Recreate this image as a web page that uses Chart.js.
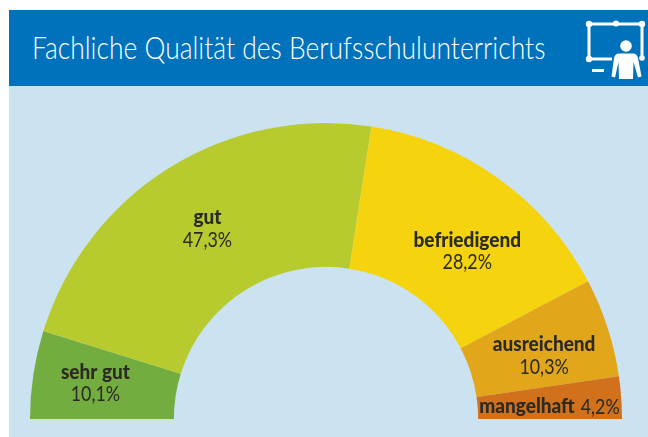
<!DOCTYPE html>
<html lang="de">
<head>
<meta charset="utf-8">
<title>Fachliche Qualität des Berufsschulunterrichts</title>
<script src="https://cdn.jsdelivr.net/npm/chart.js@4"></script>
<style>
  html, body { margin: 0; padding: 0; background: #fff; overflow: hidden; }
  #stage { position: relative; width: 648px; height: 437px; overflow: hidden; }
  #panel { position: absolute; left: 9px; top: 86px; width: 639px; height: 351px; background: #CBE2F1; }
  #head { position: absolute; left: 9px; top: 10px; width: 639px; height: 76px; background: #0072BB; }
  #title { position: absolute; left: 32px; top: 28px; margin: 0; color: #fff; font: 300 31px Lato, sans-serif; white-space: nowrap; transform-origin: 0 0; transform: scaleX(0.853); }
  #icon { position: absolute; left: 584px; top: 20px; }
  canvas { position: absolute; left: 0; top: 0; }
</style>
</head>
<body>
<div id="stage">
  <div id="panel"></div>
  <div id="head"></div>
  <h1 id="title">Fachliche Qualität des Berufsschulunterrichts</h1>
  <svg id="icon" width="64" height="62" viewBox="0 0 64 62">
    <g fill="#fff">
      <path d="M3.500 2.500H59.500V38H56.500V5.500H6.500V37.500H28V40.500H3.500Z"/>
      <circle cx="5" cy="4" r="3.200"/><circle cx="32" cy="3.500" r="3"/><circle cx="58" cy="4" r="3.200"/>
      <circle cx="5" cy="39" r="3.200"/><circle cx="58" cy="38" r="2.800"/>
      <circle cx="42" cy="26" r="5.800"/>
      <path d="M35 33.500H49C52 33.500 53 35 54 38L57.500 56.500L54 57.500L49.500 42L49 59H35L34.500 42L31 57.500L27.500 56.500L30 38C31 35 32 33.500 35 33.500Z"/>
      <rect x="8" y="49" width="12" height="3"/>
    </g>
  </svg>
  <canvas id="chart" width="648" height="437"></canvas>
</div>
<script>
// Category names and the percentages printed in the picture.
const categories = ['sehr gut', 'gut', 'befriedigend', 'ausreichend', 'mangelhaft'];
const printedLabels = ['10,1%', '47,3%', '28,2%', '10,3%', '4,2%'];
// Arc shares measured from the drawn slices. The reference's slices are not
// exactly proportional to its printed percentages, so both are kept separately.
const arcShares = [9.6, 45.3, 29.7, 10.8, 4.6];
const sliceColors = ['#74AD3F', '#B7CB2E', '#F5D40F', '#E2A61B', '#D2711C'];

const labelOffsets = [[-9, -2], [0, 0], [11, 15], [5, 6], [0, 4]];
const inlineLabel = [false, false, false, false, true];
const boldSqueeze = 0.95;
const regularSqueeze = 0.85;

const labelPlugin = {
  id: 'sliceLabels',
  afterDatasetsDraw(chart) {
    const ctx = chart.ctx;
    const arcs = chart.getDatasetMeta(0).data;
    const bold = '900 20px Lato, sans-serif';
    const reg = '400 21px Lato, sans-serif';
    const put = (text, font, squeeze, x, y, align) => {
      ctx.save();
      ctx.translate(x, y);
      ctx.scale(squeeze, 1);
      ctx.font = font;
      ctx.textAlign = align;
      ctx.textBaseline = 'middle';
      ctx.fillStyle = '#2B2A25';
      ctx.fillText(text, 0, 0);
      ctx.restore();
    };
    arcs.forEach((arc, i) => {
      const c = arc.getCenterPoint();
      const x = c.x + labelOffsets[i][0];
      const y = c.y + labelOffsets[i][1];
      if (inlineLabel[i]) {
        ctx.font = bold;
        const w1 = ctx.measureText(categories[i]).width * boldSqueeze;
        ctx.font = reg;
        const w2 = ctx.measureText(printedLabels[i]).width * regularSqueeze;
        const left = x - (w1 + 6 + w2) / 2;
        put(categories[i], bold, boldSqueeze, left, y, 'left');
        put(printedLabels[i], reg, regularSqueeze, left + w1 + 6, y, 'left');
      } else {
        put(categories[i], bold, boldSqueeze, x, y - 11, 'center');
        put(printedLabels[i], reg, regularSqueeze, x, y + 11, 'center');
      }
    });
  }
};

new Chart(document.getElementById('chart'), {
  type: 'doughnut',
  data: {
    labels: categories,
    datasets: [{
      data: arcShares,
      backgroundColor: sliceColors,
      borderWidth: 0
    }]
  },
  options: {
    responsive: false,
    animation: false,
    rotation: -90,
    circumference: 180,
    cutout: '51.4%',
    layout: { padding: { left: 30, right: 26, top: 123, bottom: 18 } },
    plugins: { legend: { display: false }, tooltip: { enabled: false } }
  },
  plugins: [labelPlugin]
});
</script>
</body>
</html>
